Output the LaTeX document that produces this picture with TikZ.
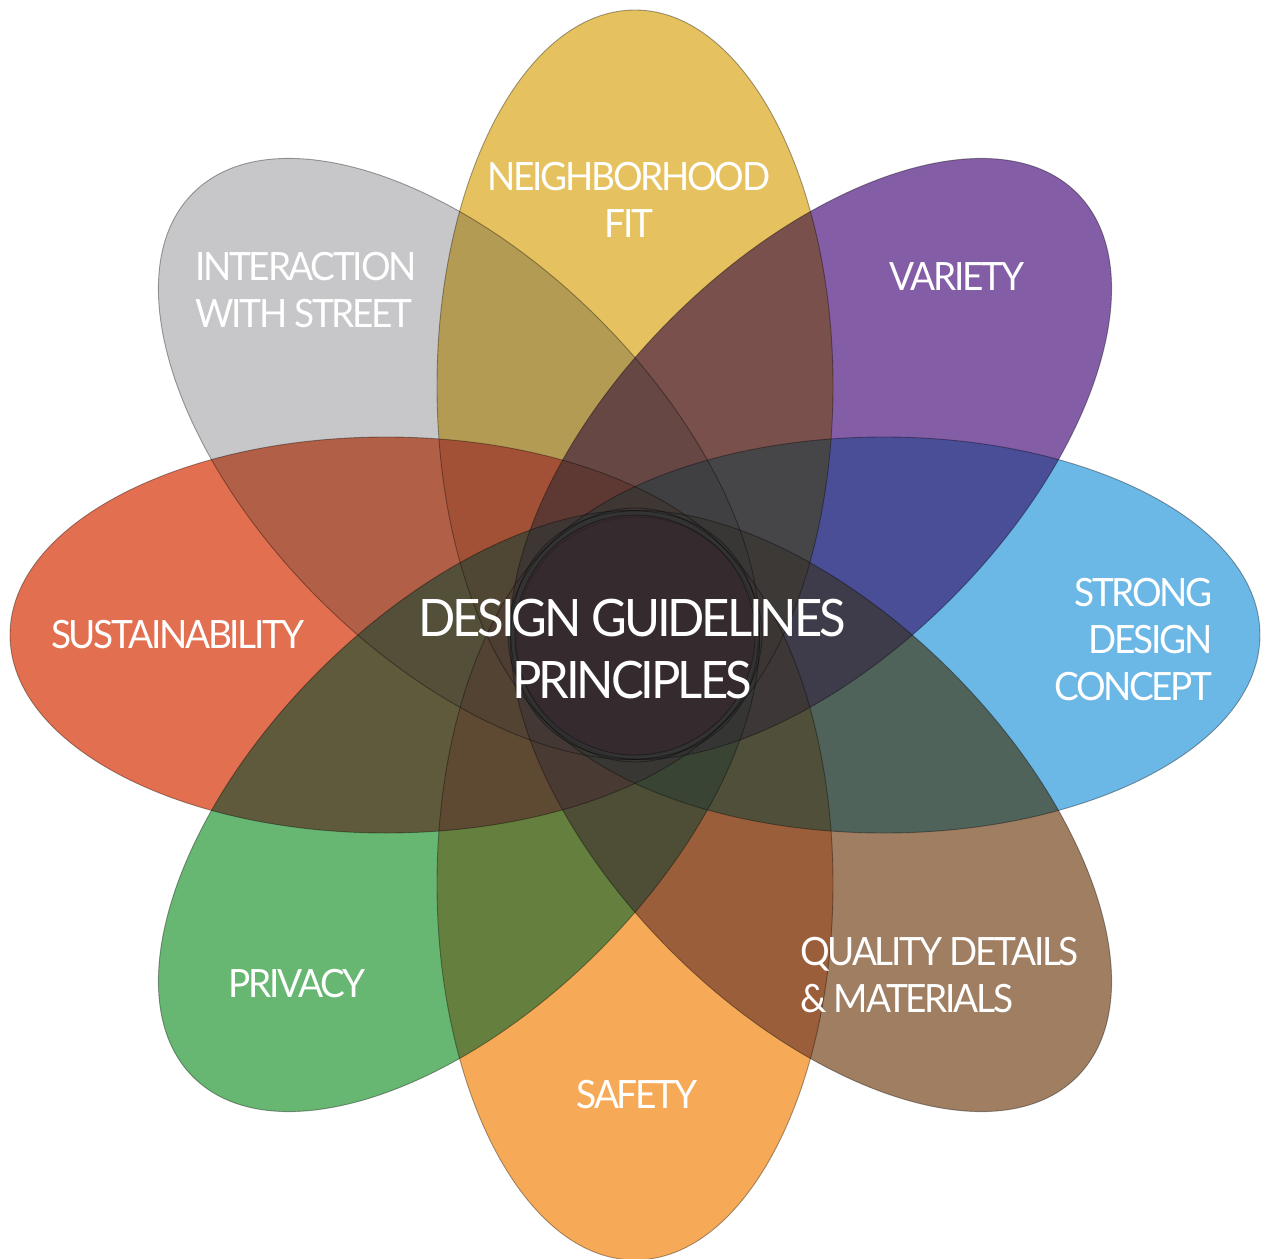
\documentclass[tikz,border=0pt]{standalone}
\usepackage{fontspec}
\setmainfont{Lato}[LetterSpace=-6, FakeStretch=0.95]
\definecolor{cyel}{HTML}{DFB337}
\definecolor{cpur}{HTML}{653590}
\definecolor{cblu}{HTML}{47A6E0}
\definecolor{cbro}{HTML}{885E3B}
\definecolor{cora}{HTML}{F4952D}
\definecolor{cgre}{HTML}{42A551}
\definecolor{cred}{HTML}{DB4C23}
\definecolor{cgry}{HTML}{BABABD}
\definecolor{ccen}{HTML}{352A2E}
\tikzset{
  petal/.style={x radius=376, y radius=198},
  edge/.style={draw=black, draw opacity=0.35, line width=0.45pt},
  lab/.style={text=white, inner sep=0pt, font=\fontsize{19.5}{23.5}\selectfont},
  mainlab/.style={text=white, inner sep=0pt, align=center, font=\fontsize{25.8}{31}\selectfont},
}
\begin{document}
\begin{tikzpicture}[x=0.5pt,y=0.5pt]
\useasboundingbox (-635,-623) rectangle (627,635);
\fill[white] (-635,-623) rectangle (627,635);
\begin{scope}[transparency group, opacity=0.8]
  \begin{scope}[blend mode=multiply]
    \foreach \ang/\col in {90/cyel,45/cpur,0/cblu,-45/cbro,-90/cora,-135/cgre,180/cred,135/cgry}
      \fill[\col, rotate=\ang] (249,0) ellipse [petal];
  \end{scope}
\end{scope}
\foreach \ang in {90,45,0,-45,-90,-135,180,135}
  \path[edge, rotate=\ang] (249,0) ellipse [petal];
\fill[ccen] (0,0) circle [radius=120];
\draw[black, draw opacity=0.35, line width=0.45pt] (0,0) circle [radius=120];
\draw[black, draw opacity=0.15, line width=0.45pt] (2,-3) circle [radius=121];

\node[lab, align=center] (nfit) at (-6,435) {NEIGHBORHOOD\\FIT};
\node[lab, align=left, anchor=west] (inter) at (-440,345) {INTERACTION\\WITH STREET};
\node[lab] (var) at (322,358) {VARIETY};
\node[lab, align=right, anchor=east] (strong) at (578,-5) {STRONG\\DESIGN\\CONCEPT};
\node[lab] (sus) at (-457,0) {SUSTAINABILITY};
\node[lab] (priv) at (-338,-349) {PRIVACY};
\node[lab] (safe) at (2,-460) {SAFETY};
\node[lab, align=left, anchor=west] (qual) at (165,-340) {QUALITY DETAILS\\\& MATERIALS};
\node[mainlab] (main) at (-3,-14) {DESIGN GUIDELINES\\PRINCIPLES};
\end{tikzpicture}
\end{document}
